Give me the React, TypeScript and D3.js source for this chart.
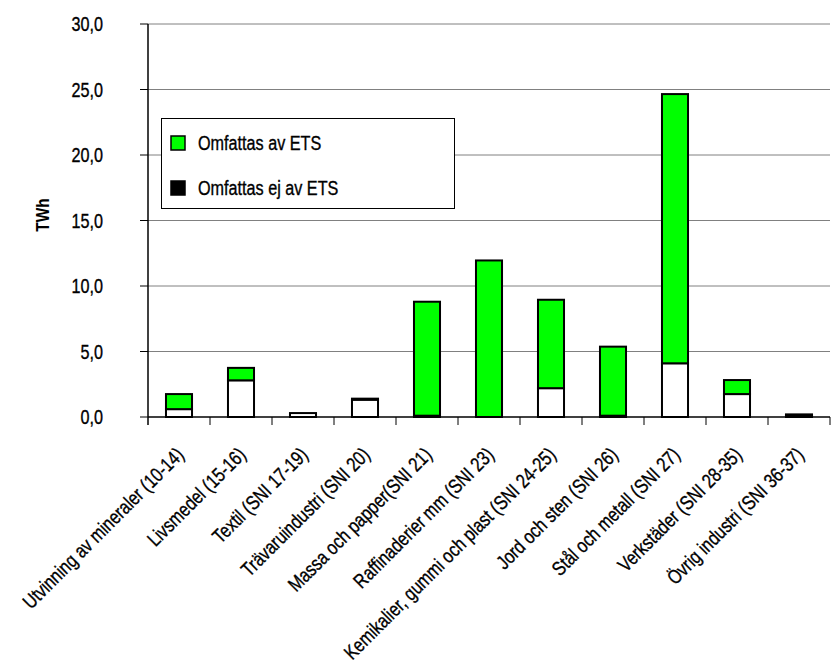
import React from 'react';
import * as d3 from 'd3';

const categories = [
  'Utvinning av mineraler (10-14)',
  'Livsmedel (15-16)',
  'Textil (SNI 17-19)',
  'Trävaruindustri (SNI 20)',
  'Massa och papper(SNI 21)',
  'Raffinaderier mm (SNI 23)',
  'Kemikalier, gummi och plast (SNI 24-25)',
  'Jord och sten (SNI 26)',
  'Stål och metall (SNI 27)',
  'Verkstäder (SNI 28-35)',
  'Övrig industri (SNI 36-37)',
];

// TWh
const ejEts = [0.6, 2.8, 0.3, 1.32, 0.1, 0, 2.2, 0.1, 4.1, 1.75, 0.12];
const avEts = [1.15, 0.95, 0, 0.08, 8.7, 11.95, 6.75, 5.27, 20.55, 1.07, 0.08];

const yTicks = [0, 5, 10, 15, 20, 25, 30];

const FONT = "'Liberation Sans', Arial, sans-serif";
const GREEN = '#00ff00';
const SQUEEZE = 0.81; // reference uses a condensed face

// condensed text: position, optional rotation, then squeeze horizontally
const CText: React.FC<{ x: number; y: number; rot?: number; anchor?: string; size?: number; bold?: boolean; dy?: string; children: React.ReactNode }> =
  ({ x, y, rot = 0, anchor = 'start', size = 20, bold = false, dy, children }) => (
    <text
      transform={`translate(${x},${y}) rotate(${rot}) scale(${SQUEEZE},1)`}
      textAnchor={anchor}
      fontSize={size}
      fontWeight={bold ? 'bold' : 'normal'}
      dy={dy}
      fill="#000"
      stroke="#000"
      strokeWidth={bold ? 0 : 0.35}
    >{children}</text>
  );

const App: React.FC = () => {
  const width = 831;
  const height = 667;
  const left = 148;
  const right = 830;
  const top = 24;
  const bottom = 417;

  const x = d3.scaleBand<string>().domain(categories).range([left, right]).paddingInner(0.58).paddingOuter(0.29);
  const band = d3.scaleBand<string>().domain(categories).range([left, right]);
  const y = d3.scaleLinear().domain([0, 30]).range([bottom, top]);
  const fmt = (v: number) => d3.format('.1f')(v).replace('.', ',');

  return (
    <div style={{ position: 'absolute', left: 0, top: 0 }}>
      <svg width={width} height={height} style={{ display: 'block', fontFamily: FONT }}>
        <rect width={width} height={height} fill="#fff" />
        {yTicks.filter(t => t > 0).map(t => (
          <line key={t} x1={left} x2={right} y1={y(t)} y2={y(t)} stroke="#808080" strokeWidth={1} />
        ))}
        {yTicks.map(t => (
          <g key={t}>
            <line x1={left - 8} x2={left} y1={y(t)} y2={y(t)} stroke="#000" />
            <CText x={103} y={y(t)} dy="0.35em" anchor="end">{fmt(t)}</CText>
          </g>
        ))}
        <CText x={49} y={215} rot={-90} anchor="middle" size={19} bold>TWh</CText>

        {categories.map((c, i) => {
          const bx = x(c)!;
          const bw = x.bandwidth();
          const y0 = y(0);
          const y1 = y(ejEts[i]);
          const y2 = y(ejEts[i] + avEts[i]);
          return (
            <g key={c}>
              {ejEts[i] > 0 && (
                <rect x={bx} y={y1} width={bw} height={y0 - y1} fill="#fff" stroke="#000" strokeWidth={2} />
              )}
              {avEts[i] > 0 && (
                <rect x={bx} y={y2} width={bw} height={y1 - y2} fill={GREEN} stroke="#000" strokeWidth={2} />
              )}
            </g>
          );
        })}

        <line x1={left} x2={right} y1={bottom} y2={bottom} stroke="#000" strokeWidth={1.5} />
        <line x1={left} x2={left} y1={top} y2={bottom + 8} stroke="#000" strokeWidth={1.5} />
        {categories.map(c => (
          <line key={c} x1={band(c)! + band.bandwidth()} x2={band(c)! + band.bandwidth()} y1={bottom} y2={bottom + 8} stroke="#000" />
        ))}

        {categories.map(c => {
          const cx = band(c)! + band.bandwidth() / 2 + 6;
          return (
            <CText key={c} x={cx} y={bottom + 39} rot={-45} anchor="end">{c}</CText>
          );
        })}

        <g>
          <rect x={161.5} y={118.5} width={293} height={90} fill="#fff" stroke="#000" strokeWidth={1} />
          <rect x={171} y={136} width={14} height={14} fill={GREEN} stroke="#000" strokeWidth={1.5} />
          <CText x={198} y={143} dy="0.35em">Omfattas av ETS</CText>
          <rect x={171} y={181} width={14} height={14} fill="#000" stroke="#000" strokeWidth={1.5} />
          <CText x={198} y={188} dy="0.35em">Omfattas ej av ETS</CText>
        </g>
      </svg>
    </div>
  );
};

export default App;
